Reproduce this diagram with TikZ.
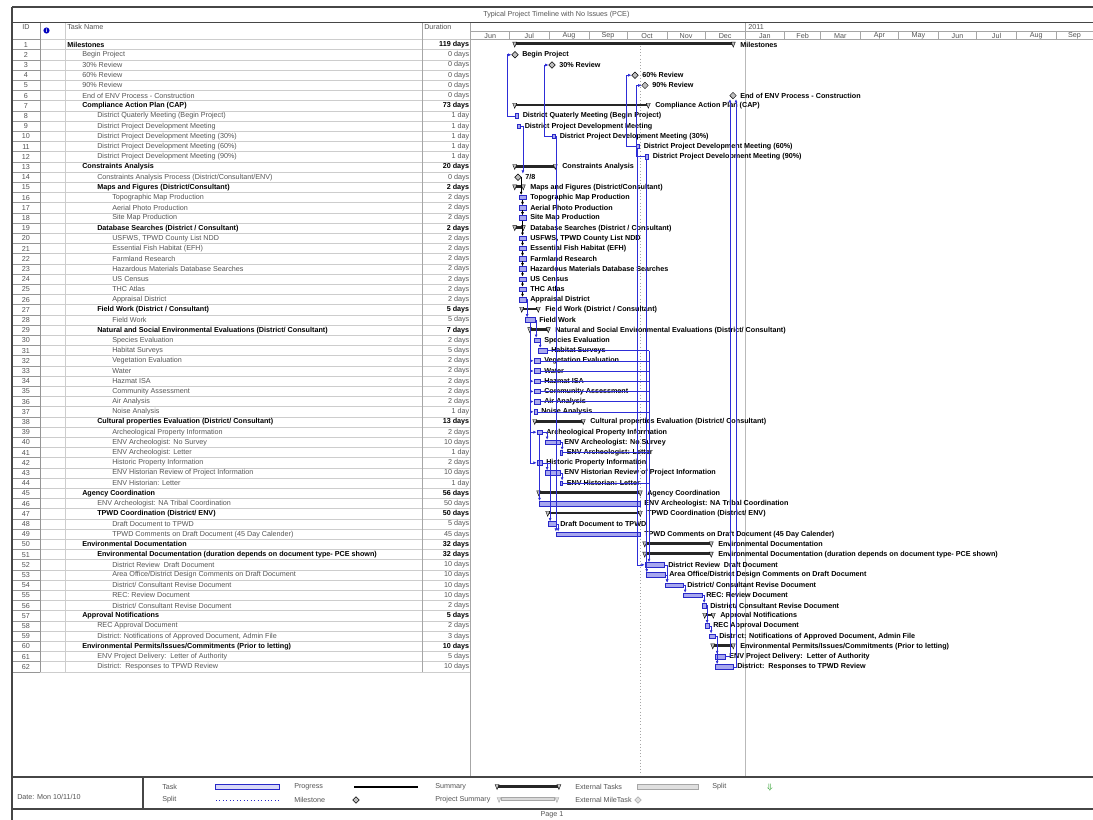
\documentclass[tikz,border=0pt]{standalone}
\usepackage{fontspec}
\setmainfont{Liberation Sans}
\usetikzlibrary{shapes.geometric,calc,arrows.meta}
\definecolor{lnkblue}{RGB}{45,45,215}
\definecolor{barfill}{RGB}{168,168,238}
\definecolor{bardraw}{RGB}{40,40,200}
\definecolor{txtgray}{RGB}{85,85,85}
\definecolor{gridgray}{RGB}{205,205,205}
\definecolor{framegray}{RGB}{70,70,70}
\definecolor{idgray}{RGB}{150,150,150}
\tikzset{
  tname/.style={font=\fontsize{5.4}{6}\selectfont, text=txtgray, inner sep=0},
  tsum/.style={font=\fontsize{5.4}{6}\selectfont\bfseries, text=black, inner sep=0},
  glabel/.style={font=\fontsize{5.4}{6}\selectfont\bfseries, text=black, inner sep=0, anchor=west},
  taskbar/.style={rectangle, draw=bardraw, fill=barfill, line width=0.55pt, inner sep=0, minimum height=3.4pt},
  sumbar/.style={rectangle, fill=black!85, inner sep=0, minimum height=2.2pt},
  capst/.style={fill=gray!45, draw=black, line width=0.3pt},
  mile/.style={diamond, draw=black, fill=gray!50, line width=0.35pt, inner sep=0, minimum size=5pt},
  lnk/.style={draw=lnkblue, line width=0.45pt, -{Latex[length=2.4pt,width=2.2pt]}},
  lnkn/.style={draw=lnkblue, line width=0.45pt},
  lnkd/.style={draw=black, line width=0.45pt, -{Latex[length=2.4pt,width=2.2pt]}},
  gridl/.style={draw=gridgray, line width=0.35pt},
  idl/.style={draw=idgray, line width=0.45pt},
  hdrl/.style={draw=gray!70, line width=0.4pt},
  framel/.style={draw=framegray, line width=1.1pt}
}
\newcommand\RY[1]{44.6+(#1-1)*10.2}
\newcommand\trow[5]{%
  \node[tname] (i#1) at (26,{\RY{#1}}) {#1};
  \ifnum#3=1
    \node[tsum,anchor=west] (n#1) at ({67+15*#2},{\RY{#1}}) {#4};
    \node[tsum,anchor=east] (d#1) at (469.5,{\RY{#1}}) {#5};
  \else
    \node[tname,anchor=west] (n#1) at ({67+15*#2},{\RY{#1}}) {#4};
    \node[tname,anchor=east] (d#1) at (469.5,{\RY{#1}}) {#5};
  \fi}
\newcommand\gtask[4]{%
  \pgfmathsetmacro\gw{(#3-#2)*0.75}%
  \node[taskbar, minimum width=\gw pt] (b#1) at ({(#2+#3)/2},{\RY{#1}}) {};
  \node[glabel] (l#1) at ({#3+4},{\RY{#1}}) {#4};}
\newcommand\gsum[4]{%
  \pgfmathsetmacro\gw{(#3-#2)*0.75}%
  \node[sumbar, minimum width=\gw pt] (b#1) at ({(#2+#3)/2},{\RY{#1}-0.8}) {};
  \filldraw[capst] ($(b#1.north west)+(-2,0)$) -- ++(4,0) -- ++(-2,5) -- cycle;
  \filldraw[capst] ($(b#1.north east)+(-2,0)$) -- ++(4,0) -- ++(-2,5) -- cycle;
  \node[glabel] (l#1) at ({#3+7},{\RY{#1}}) {#4};}
\newcommand\gmile[3]{%
  \node[mile] (b#1) at (#2,{\RY{#1}}) {};
  \node[glabel] (l#1) at ({#2+7},{\RY{#1}}) {#3};}
\newcommand\fs[2]{\draw[lnk] (b#1.east) -| ($(b#2.north west)+(2.5,0)$);}
\begin{document}
\begin{tikzpicture}[x=0.75pt,y=-0.75pt]
\useasboundingbox (0,0) rectangle (1093,820);
\fill[white] (0,0) rectangle (1093,820);
% ---------- frame and header ----------
\node[tname, anchor=west] (title) at (483,15) {Typical Project Timeline with No Issues (PCE)};
\node[tname] (hid) at (26,27) {ID};
\node[circle, fill=blue!75!black, text=white, inner sep=0, minimum size=4.6pt, font=\fontsize{4}{4}\selectfont\bfseries] (info) at (46.5,30.5) {i};
\node[tname, anchor=west] (htask) at (67,27) {Task Name};
\node[tname, anchor=west] (hdur) at (424,27) {Duration};
\node[tname, anchor=west] (year) at (748,27) {2011};
\draw[hdrl] (470,31.5) -- (1093,31.5);
\draw[hdrl] (745,22.5) -- (745,31.5);
\foreach \m/\xa/\xb [count=\k] in {Jun/471/509.4, Jul/509.4/549.1, Aug/549.1/588.8, Sep/588.8/627.2, Oct/627.2/666.9, Nov/666.9/705.3, Dec/705.3/745, Jan/745/784.7, Feb/784.7/820.5, Mar/820.5/860.2, Apr/860.2/898.6, May/898.6/938.3, Jun/938.3/976.7, Jul/976.7/1016.4, Aug/1016.4/1056.1, Sep/1056.1/1093}{
  \node[tname] (mon\k) at ({(\xa+\xb)/2},35.6) {\m};
  \draw[hdrl] (\xb,31.5) -- (\xb,39.5);
}
% table grid
\foreach \i in {0,...,62}{
  \draw[gridl] (40,{39.5+\i*10.2}) -- (470,{39.5+\i*10.2});
  \draw[idl] (12,{39.5+\i*10.2}) -- (40,{39.5+\i*10.2});
}
\draw[hdrl] (470,39.5) -- (1093,39.5);
\draw[idl] (40,22.5) -- (40,671.9);
\draw[gridl] (65,22.5) -- (65,671.9);
\draw[hdrl] (422.7,22.5) -- (422.7,671.9);
\draw[hdrl] (470,22.5) -- (470,777);
% date line and year line
\draw[gray!70, line width=0.4pt, dotted] (640,39.5) -- (640,777);
\draw[gray!55, line width=0.35pt] (745,39.5) -- (745,777);
% frame
\draw[framel] (12,7) -- (1093,7);
\draw[framel] (12,22.5) -- (1093,22.5);
\draw[framel] (12,7) -- (12,820);
\draw[framel] (12,777) -- (1093,777);
\draw[framel] (12,809) -- (1093,809);
\draw[framel] (143,777) -- (143,809);
% ---------- table rows ----------
\trow{1}{0}{1}{Milestones}{119 days}
\trow{2}{1}{0}{Begin Project}{0 days}
\trow{3}{1}{0}{30\% Review}{0 days}
\trow{4}{1}{0}{60\% Review}{0 days}
\trow{5}{1}{0}{90\% Review}{0 days}
\trow{6}{1}{0}{End of ENV Process - Construction}{0 days}
\trow{7}{1}{1}{Compliance Action Plan (CAP)}{73 days}
\trow{8}{2}{0}{District Quaterly Meeting (Begin Project)}{1 day}
\trow{9}{2}{0}{District Project Development Meeting}{1 day}
\trow{10}{2}{0}{District Project Development Meeting (30\%)}{1 day}
\trow{11}{2}{0}{District Project Development Meeting (60\%)}{1 day}
\trow{12}{2}{0}{District Project Development Meeting (90\%)}{1 day}
\trow{13}{1}{1}{Constraints Analysis}{20 days}
\trow{14}{2}{0}{Constraints Analysis Process (District/Consultant/ENV)}{0 days}
\trow{15}{2}{1}{Maps and Figures (District/Consultant)}{2 days}
\trow{16}{3}{0}{Topographic Map Production}{2 days}
\trow{17}{3}{0}{Aerial Photo Production}{2 days}
\trow{18}{3}{0}{Site Map Production}{2 days}
\trow{19}{2}{1}{Database Searches (District / Consultant)}{2 days}
\trow{20}{3}{0}{USFWS, TPWD County List NDD}{2 days}
\trow{21}{3}{0}{Essential Fish Habitat (EFH)}{2 days}
\trow{22}{3}{0}{Farmland Research}{2 days}
\trow{23}{3}{0}{Hazardous Materials Database Searches}{2 days}
\trow{24}{3}{0}{US Census}{2 days}
\trow{25}{3}{0}{THC Atlas}{2 days}
\trow{26}{3}{0}{Appraisal District}{2 days}
\trow{27}{2}{1}{Field Work (District / Consultant)}{5 days}
\trow{28}{3}{0}{Field Work}{5 days}
\trow{29}{2}{1}{Natural and Social Environmental Evaluations (District/ Consultant)}{7 days}
\trow{30}{3}{0}{Species Evaluation}{2 days}
\trow{31}{3}{0}{Habitat Surveys}{5 days}
\trow{32}{3}{0}{Vegetation Evaluation}{2 days}
\trow{33}{3}{0}{Water}{2 days}
\trow{34}{3}{0}{Hazmat ISA}{2 days}
\trow{35}{3}{0}{Community Assessment}{2 days}
\trow{36}{3}{0}{Air Analysis}{2 days}
\trow{37}{3}{0}{Noise Analysis}{1 day}
\trow{38}{2}{1}{Cultural properties Evaluation (District/ Consultant)}{13 days}
\trow{39}{3}{0}{Archeological Property Information}{2 days}
\trow{40}{3}{0}{ENV Archeologist: No Survey}{10 days}
\trow{41}{3}{0}{ENV Archeologist: Letter}{1 day}
\trow{42}{3}{0}{Historic Property Information}{2 days}
\trow{43}{3}{0}{ENV Historian Review of Project Information}{10 days}
\trow{44}{3}{0}{ENV Historian: Letter}{1 day}
\trow{45}{1}{1}{Agency Coordination}{56 days}
\trow{46}{2}{0}{ENV Archeologist: NA Tribal Coordination}{50 days}
\trow{47}{2}{1}{TPWD Coordination (District/ ENV)}{50 days}
\trow{48}{3}{0}{Draft Document to TPWD}{5 days}
\trow{49}{3}{0}{TPWD Comments on Draft Document (45 Day Calender)}{45 days}
\trow{50}{1}{1}{Environmental Documentation}{32 days}
\trow{51}{2}{1}{Environmental Documentation (duration depends on document type- PCE shown)}{32 days}
\trow{52}{3}{0}{District Review\ \ Draft Document}{10 days}
\trow{53}{3}{0}{Area Office/District Design Comments on Draft Document}{10 days}
\trow{54}{3}{0}{District/ Consultant Revise Document}{10 days}
\trow{55}{3}{0}{REC: Review Document}{10 days}
\trow{56}{3}{0}{District/ Consultant Revise Document}{2 days}
\trow{57}{1}{1}{Approval Notifications}{5 days}
\trow{58}{2}{0}{REC Approval Document}{2 days}
\trow{59}{2}{0}{District: Notifications of Approved Document, Admin File}{3 days}
\trow{60}{1}{1}{Environmental Permits/Issues/Commitments (Prior to letting)}{10 days}
\trow{61}{2}{0}{ENV Project Delivery:\ \ Letter of Authority}{5 days}
\trow{62}{2}{0}{District:\ \ Responses to TPWD Review}{10 days}
% ---------- chart ----------
\gsum{1}{515}{733}{Milestones}
\gmile{2}{515}{Begin Project}
\gmile{3}{552}{30\% Review}
\gmile{4}{635}{60\% Review}
\gmile{5}{645}{90\% Review}
\gmile{6}{733}{End of ENV Process - Construction}
\gsum{7}{515}{648}{Compliance Action Plan (CAP)}
\gtask{8}{515}{518.5}{District Quaterly Meeting (Begin Project)}
\gtask{9}{517}{520.5}{District Project Development Meeting}
\gtask{10}{552}{555.5}{District Project Development Meeting (30\%)}
\gtask{11}{636}{639.5}{District Project Development Meeting (60\%)}
\gtask{12}{645}{648.5}{District Project Development Meeting (90\%)}
\gsum{13}{515}{555}{Constraints Analysis}
\gmile{14}{518}{7/8}
\gsum{15}{515}{523}{Maps and Figures (District/Consultant)}
\gtask{16}{519}{526}{Topographic Map Production}
\gtask{17}{519}{526}{Aerial Photo Production}
\gtask{18}{519}{526}{Site Map Production}
\gsum{19}{515}{523}{Database Searches (District / Consultant)}
\gtask{20}{519}{526}{USFWS, TPWD County List NDD}
\gtask{21}{519}{526}{Essential Fish Habitat (EFH)}
\gtask{22}{519}{526}{Farmland Research}
\gtask{23}{519}{526}{Hazardous Materials Database Searches}
\gtask{24}{519}{526}{US Census}
\gtask{25}{519}{526}{THC Atlas}
\gtask{26}{519}{526}{Appraisal District}
\gsum{27}{522}{538}{Field Work (District / Consultant)}
\gtask{28}{525}{535}{Field Work}
\gsum{29}{530}{548}{Natural and Social Environmental Evaluations (District/ Consultant)}
\gtask{30}{534}{540}{Species Evaluation}
\gtask{31}{538}{547}{Habitat Surveys}
\gtask{32}{534}{540}{Vegetation Evaluation}
\gtask{33}{534}{540}{Water}
\gtask{34}{534}{540}{Hazmat ISA}
\gtask{35}{534}{540}{Community Assessment}
\gtask{36}{534}{540}{Air Analysis}
\gtask{37}{534}{537}{Noise Analysis}
\gsum{38}{535}{583}{Cultural properties Evaluation (District/ Consultant)}
\gtask{39}{537}{542}{Archeological Property Information}
\gtask{40}{545}{560}{ENV Archeologist: No Survey}
\gtask{41}{560}{562.5}{ENV Archeologist: Letter}
\gtask{42}{537}{542}{Historic Property Information}
\gtask{43}{545}{560}{ENV Historian Review of Project Information}
\gtask{44}{560}{562.5}{ENV Historian: Letter}
\gsum{45}{539}{640}{Agency Coordination}
\gtask{46}{539}{640}{ENV Archeologist: NA Tribal Coordination}
\gsum{47}{548}{640}{TPWD Coordination (District/ ENV)}
\gtask{48}{548}{556}{Draft Document to TPWD}
\gtask{49}{556}{640}{TPWD Comments on Draft Document (45 Day Calender)}
\gsum{50}{645}{711}{Environmental Documentation}
\gsum{51}{645}{711}{Environmental Documentation (duration depends on document type- PCE shown)}
\gtask{52}{645}{664}{District Review\ \ Draft Document}
\gtask{53}{646}{665}{Area Office/District Design Comments on Draft Document}
\gtask{54}{665}{683}{District/ Consultant Revise Document}
\gtask{55}{683}{702}{REC: Review Document}
\gtask{56}{702}{706}{District/ Consultant Revise Document}
\gsum{57}{705}{713}{Approval Notifications}
\gtask{58}{705}{709}{REC Approval Document}
\gtask{59}{709}{715}{District: Notifications of Approved Document, Admin File}
\gsum{60}{713}{733}{Environmental Permits/Issues/Commitments (Prior to letting)}
\gtask{61}{715}{725}{ENV Project Delivery:\ \ Letter of Authority}
\gtask{62}{715}{733}{District:\ \ Responses to TPWD Review}
% ---------- links ----------
\draw[lnk] (b8.west) -- ++(-7,0) |- (b2.west);
\draw[lnk] (b10.west) -- ++(-7,0) |- (b3.west);
\draw[lnk] (b11.west) -- ++(-9,0) |- (b4.west);
\draw[lnk] (b12.west) -- ++(-8,0) |- (b5.west);
\draw[lnk] (b9.east) -- ++(2,0) -- ($(b9.east |- b14.north)+(2,0)$);
\draw[lnk] (b10.east) -- (b10.east |- b49.north);
\draw[lnk] (b11.south) |- (b52.west);
\draw[lnk] (b12.south) -- (b12.south |- b53.north);
\coordinate (rail) at (649,351);
\foreach \i in {31,32,33,34,35,36,37,41,44}{\draw[lnkn] (b\i.east) -- (b\i.east -| rail);}
\draw[lnk] (b31.east -| rail) -- (rail |- b52.north);
\draw[lnk] (b61.east) -| ($(b6.south)+(-3,0)$);
\draw[lnk] (b62.east) -| ($(b6.south)+(3,0)$);
\fs{52}{54}\fs{53}{54}\fs{54}{55}\fs{55}{56}\fs{56}{58}\fs{58}{59}\fs{59}{61}\fs{59}{62}
\fs{39}{40}\fs{40}{41}\fs{42}{43}\fs{43}{44}\fs{48}{49}\fs{30}{31}\fs{26}{28}\fs{28}{30}
\draw[lnkd] (b14.east) -| ($(b16.north west)+(2.5,0)$);
\foreach \a/\b in {16/17,17/18,18/20,20/21,21/22,22/23,23/24,24/25,25/26}{\draw[lnkd] (b\a.south) -- (b\b.north);}
\foreach \i in {32,33,34,35,36,37,39,42}{\draw[lnk] (b28.south) |- (b\i.west);}
\draw[lnk] (b39.south) -- (b39.south |- b46.north);
\fs{42}{48}
% ---------- legend ----------
\node[tname, anchor=west] (date) at (17,797) {Date: Mon 10/11/10};
\node[tname, anchor=west] (lgt1) at (162,787) {Task};
\node[taskbar, fill=barfill!45, minimum width=48pt] (lgtask) at (247,787) {};
\node[tname, anchor=west] (lgt2) at (294,787) {Progress};
\node[fill=black, inner sep=0, minimum width=48pt, minimum height=2.2pt] (lgprog) at (386,787) {};
\node[tname, anchor=west] (lgt3) at (435,787) {Summary};
\node[sumbar, minimum width=46pt] (lgsum) at (528,786.2) {};
\filldraw[capst] ($(lgsum.north west)+(-2,0)$) -- ++(4,0) -- ++(-2,5) -- cycle;
\filldraw[capst] ($(lgsum.north east)+(-2,0)$) -- ++(4,0) -- ++(-2,5) -- cycle;
\node[tname, anchor=west] (lgt4) at (575,787) {External Tasks};
\node[rectangle, draw=gray!70, fill=gray!25, inner sep=0, minimum width=46pt, minimum height=3.4pt] (lgext) at (668,787) {};
\node[tname, anchor=west] (lgt5) at (712,787) {Split};
\node[text=green!55!black, inner sep=0, font=\fontsize{6}{6}\selectfont] (lgdead) at (770,787) {$\Downarrow$};
\node[tname, anchor=west] (lgt6) at (162,800) {Split};
\draw[bardraw, line width=0.6pt, dotted] (216,800) -- (280,800);
\node[tname, anchor=west] (lgt7) at (294,800) {Milestone};
\node[mile] (lgmile) at (356,800) {};
\node[tname, anchor=west] (lgt8) at (435,800) {Project Summary};
\node[rectangle, draw=gray!70, fill=gray!30, inner sep=0, minimum width=40pt, minimum height=2.2pt] (lgpsum) at (528,799.2) {};
\filldraw[fill=gray!25, draw=gray!70, line width=0.3pt] ($(lgpsum.north west)+(-4,0)$) -- ++(4,0) -- ++(-2,5) -- cycle;
\filldraw[fill=gray!25, draw=gray!70, line width=0.3pt] ($(lgpsum.north east)+(0,0)$) -- ++(4,0) -- ++(-2,5) -- cycle;
\node[tname, anchor=west] (lgt9) at (575,800) {External MileTask};
\node[mile, fill=gray!25, draw=gray!70] (lgextm) at (638,800) {};
\node[tname] (page) at (552,815) {Page 1};
\end{tikzpicture}
\end{document}
